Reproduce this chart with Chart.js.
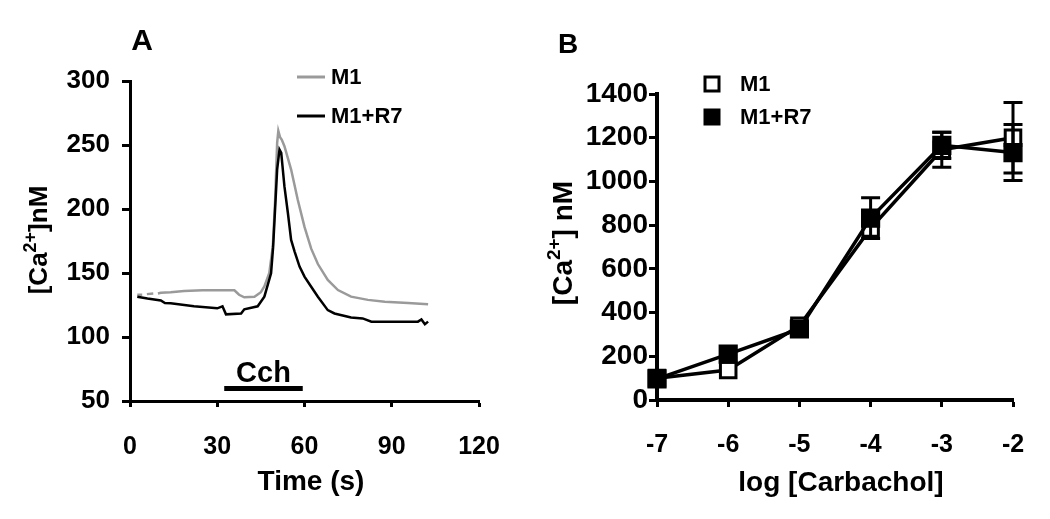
<!DOCTYPE html>
<html>
<head>
<meta charset="utf-8">
<script src="https://cdn.jsdelivr.net/npm/chart.js@4.4.0/dist/chart.umd.min.js"></script>
<style>
    html, body { margin: 0; padding: 0; background: #fff; }
    .panel { position: absolute; top: 0; width: 525px; height: 519px; }
    #panelA { left: 0; }
    #panelB { left: 525px; }
</style>
</head>
<body>
<div class="panel" id="panelA"><canvas id="chartA"></canvas></div>
<div class="panel" id="panelB"><canvas id="chartB"></canvas></div>
<script>
const FONT = '"Liberation Sans", Arial, Helvetica, sans-serif';

// Panel A - single cell calcium traces (null = gap in the recording)
const m1Time = [2.5, 4.2, 5, 5.8, 8, 8.8, 9.6, 10.6, 14, 18.6, 25, 30, 35.9, 37.5, 39.3, 42.8, 45, 46.2, 47.9, 49.1, 49.9, 50.6, 51, 51.6, 52.2, 53.1, 55.4, 57.7, 60, 62.3, 64.6, 68, 71.5, 76, 81.8, 87.6, 95.6, 102.5];
const m1Ca = [133, 133, null, 133.5, 134, null, 134, 134.5, 135, 136, 136.5, 136.5, 136.5, 133, 131, 131.5, 135, 139.5, 150, 170.7, 207, 251.7, 261, 256, 254, 249, 230.8, 207, 186, 169, 157, 144.6, 136.7, 131.5, 129, 127.5, 126.5, 125.5];
const r7Time = [2.5, 6, 10.6, 12, 14, 22, 30, 31.8, 33, 38.2, 39.3, 43.9, 46.2, 48.5, 49.2, 49.7, 50.6, 51.4, 52, 53.1, 54.3, 55.4, 56.6, 58.3, 60, 62.3, 64.6, 68, 70.3, 76, 80, 83, 99, 100.2, 101.4, 102.5];
const r7Ca = [131.5, 130, 128.5, 126.5, 126.3, 124, 122.4, 124, 117.7, 118.4, 121.6, 124, 131.5, 149.8, 170, 191.6, 231, 246.4, 243.8, 217.6, 196.7, 175.8, 166.7, 155, 147.2, 139.3, 131.5, 121, 118.4, 115.3, 114.5, 112, 112, 113.7, 110, 112];
const cchTime = [32.4, 59.4];
const cchLevel = 59.7;
const timeTicks = [0, 30, 60, 90, 120];
const caTicksA = [50, 100, 150, 200, 250, 300];

// Panel B - concentration response
const logCarbachol = [-7, -6, -5, -4, -3, -2];
const m1Mean = [100, 137, 340, 785, 1145, 1200];
const m1Sem = [20, 25, 30, 40, 80, 161];
const r7Mean = [97, 210, 325, 832, 1165, 1132];
const r7Sem = [20, 20, 25, 93, 60, 128];
const caTicksB = [0, 200, 400, 600, 800, 1000, 1200, 1400];

function toPoints(xs, ys) {
    return xs.map((x, i) => ({ x, y: ys[i] }));
}

function bold(size) {
    return `bold ${size}px ${FONT}`;
}

function fixedTicks(values) {
    return (scale) => {
        scale.ticks = values.map((value) => ({ value }));
    };
}

function axisStyle(borderWidth, tickLength, tickWidth) {
    return {
        border: { display: true, color: "#000", width: borderWidth },
        grid: { drawOnChartArea: false, drawTicks: true, tickLength, tickWidth, tickColor: "#000", color: "#000" }
    };
}

function tickFont(size, padding) {
    return {
        color: "#000",
        padding,
        maxRotation: 0,
        font: { family: FONT, size, weight: "bold" },
        callback: (value) => String(value)
    };
}

// rotated "[Ca2+]..." title with a raised 2+
function drawCaTitle(ctx, cx, cy, size, tail) {
    const supSize = Math.round(size * 0.68);
    ctx.save();
    ctx.translate(cx, cy);
    ctx.rotate(-Math.PI / 2);
    ctx.fillStyle = "#000";
    ctx.textBaseline = "alphabetic";
    ctx.textAlign = "left";
    ctx.font = bold(size);
    const w1 = ctx.measureText("[Ca").width;
    const w3 = ctx.measureText(tail).width;
    ctx.font = bold(supSize);
    const w2 = ctx.measureText("2+").width;
    let x = -(w1 + w2 + w3) / 2;
    const base = size * 0.36;
    ctx.font = bold(size);
    ctx.fillText("[Ca", x, base);
    x += w1;
    ctx.font = bold(supSize);
    ctx.fillText("2+", x, base - size * 0.42);
    x += w2;
    ctx.font = bold(size);
    ctx.fillText(tail, x, base);
    ctx.restore();
}

function drawText(ctx, text, x, y, size, align) {
    ctx.save();
    ctx.fillStyle = "#000";
    ctx.font = bold(size);
    ctx.textAlign = align || "center";
    ctx.textBaseline = "middle";
    ctx.fillText(text, x, y);
    ctx.restore();
}

const decorA = {
    id: "decorA",
    afterDraw(chart) {
        const { ctx, scales } = chart;
        drawText(ctx, "A", 142, 42, 30);
        drawCaTitle(ctx, 38, 240, 26, "]nM");
        drawText(ctx, "Time (s)", 311, 482, 28);

        // Cch label above the application bar
        const midX = scales.x.getPixelForValue((cchTime[0] + cchTime[1]) / 2);
        const barY = scales.y.getPixelForValue(cchLevel);
        drawText(ctx, "Cch", midX, barY - 15, 29);

        // legend
        const rows = [
            { label: "M1", color: "#9a9a9a", y: 77 },
            { label: "M1+R7", color: "#000", y: 116 }
        ];
        rows.forEach((row) => {
            ctx.save();
            ctx.strokeStyle = row.color;
            ctx.lineWidth = 3;
            ctx.beginPath();
            ctx.moveTo(297, row.y);
            ctx.lineTo(325, row.y);
            ctx.stroke();
            ctx.restore();
            drawText(ctx, row.label, 331, row.y + 1, 22, "left");
        });
    }
};

const errorBars = {
    id: "errorBars",
    afterDatasetsDraw(chart) {
        const { ctx, scales: { x, y } } = chart;
        ctx.save();
        ctx.strokeStyle = "#000";
        ctx.lineWidth = 3;
        chart.data.datasets.forEach((ds) => {
            ds.data.forEach((p, i) => {
                const err = ds.sem[i];
                const px = x.getPixelForValue(p.x);
                const py = y.getPixelForValue(p.y);
                const top = y.getPixelForValue(p.y + err);
                const bottom = y.getPixelForValue(p.y - err);
                if (py - top <= 10) {
                    return; // shorter than the symbol, hidden
                }
                ctx.beginPath();
                ctx.moveTo(px, top);
                ctx.lineTo(px, bottom);
                ctx.moveTo(px - 9.5, top);
                ctx.lineTo(px + 9.5, top);
                ctx.moveTo(px - 9.5, bottom);
                ctx.lineTo(px + 9.5, bottom);
                ctx.stroke();
            });
        });
        ctx.restore();
    }
};

const decorB = {
    id: "decorB",
    afterDraw(chart) {
        const { ctx } = chart;
        drawText(ctx, "B", 43, 45, 28);
        drawCaTitle(ctx, 37, 243, 28, "] nM");
        drawText(ctx, "log [Carbachol]", 316, 483, 28);

        // legend
        ctx.save();
        ctx.fillStyle = "#fff";
        ctx.strokeStyle = "#000";
        ctx.lineWidth = 3;
        ctx.fillRect(180, 77, 14, 14);
        ctx.strokeRect(180, 77, 14, 14);
        ctx.fillStyle = "#000";
        ctx.fillRect(178.5, 108.5, 17, 17);
        ctx.restore();
        drawText(ctx, "M1", 215, 85, 22, "left");
        drawText(ctx, "M1+R7", 215, 118, 22, "left");
    }
};

function initPanelA() {
    const canvas = document.getElementById("chartA");
    const xAxis = axisStyle(3, 6, 3);
    const yAxis = axisStyle(3, 8, 3);

    new Chart(canvas, {
        type: "line",
        data: {
            datasets: [
                {
                    label: "M1+R7",
                    data: toPoints(r7Time, r7Ca),
                    borderColor: "#000",
                    borderWidth: 2.5,
                    pointRadius: 0,
                    order: 1
                },
                {
                    label: "M1",
                    data: toPoints(m1Time, m1Ca),
                    borderColor: "#9a9a9a",
                    borderWidth: 2.5,
                    pointRadius: 0,
                    spanGaps: false,
                    order: 2
                },
                {
                    label: "Cch",
                    data: cchTime.map((t) => ({ x: t, y: cchLevel })),
                    borderColor: "#000",
                    borderWidth: 5,
                    borderCapStyle: "butt",
                    pointRadius: 0,
                    order: 0
                }
            ]
        },
        options: {
            animation: false,
            responsive: true,
            maintainAspectRatio: false,
            layout: { padding: { left: 0, right: 46, top: 81, bottom: 0 } },
            plugins: {
                legend: { display: false },
                tooltip: { enabled: false }
            },
            scales: {
                x: {
                    type: "linear",
                    min: 0,
                    max: 120,
                    afterBuildTicks: fixedTicks(timeTicks),
                    afterFit: (scale) => { scale.height = 118; },
                    border: xAxis.border,
                    grid: xAxis.grid,
                    ticks: tickFont(25, 25)
                },
                y: {
                    type: "linear",
                    min: 50,
                    max: 300,
                    afterBuildTicks: fixedTicks(caTicksA),
                    afterFit: (scale) => { scale.width = 130; },
                    border: yAxis.border,
                    grid: yAxis.grid,
                    ticks: tickFont(26, 12)
                }
            }
        },
        plugins: [decorA]
    });
}

function initPanelB() {
    const canvas = document.getElementById("chartB");
    const xAxis = axisStyle(4, 7, 3);
    const yAxis = axisStyle(4, 8, 3);

    new Chart(canvas, {
        type: "line",
        data: {
            datasets: [
                {
                    label: "M1+R7",
                    data: toPoints(logCarbachol, r7Mean),
                    sem: r7Sem,
                    borderColor: "#000",
                    borderWidth: 3.5,
                    pointStyle: "rect",
                    pointRadius: 12.5,
                    pointBorderWidth: 1.5,
                    pointBackgroundColor: "#000",
                    pointBorderColor: "#000",
                    clip: false,
                    order: 1
                },
                {
                    label: "M1",
                    data: toPoints(logCarbachol, m1Mean),
                    sem: m1Sem,
                    borderColor: "#000",
                    borderWidth: 3.5,
                    pointStyle: "rect",
                    pointRadius: 11,
                    pointBorderWidth: 3,
                    pointBackgroundColor: "#fff",
                    pointBorderColor: "#000",
                    clip: false,
                    order: 2
                }
            ]
        },
        options: {
            animation: false,
            responsive: true,
            maintainAspectRatio: false,
            layout: { padding: { left: 0, right: 37, top: 94, bottom: 0 } },
            plugins: {
                legend: { display: false },
                tooltip: { enabled: false }
            },
            scales: {
                x: {
                    type: "linear",
                    min: -7,
                    max: -2,
                    afterBuildTicks: fixedTicks(logCarbachol),
                    afterFit: (scale) => { scale.height = 119; },
                    border: xAxis.border,
                    grid: xAxis.grid,
                    ticks: tickFont(25, 23)
                },
                y: {
                    type: "linear",
                    min: 0,
                    max: 1400,
                    afterBuildTicks: fixedTicks(caTicksB),
                    afterFit: (scale) => { scale.width = 132; },
                    border: yAxis.border,
                    grid: yAxis.grid,
                    ticks: tickFont(28, 1)
                }
            }
        },
        plugins: [errorBars, decorB]
    });
}

document.addEventListener("DOMContentLoaded", () => {
    initPanelA();
    initPanelB();
});
</script>
</body>
</html>
